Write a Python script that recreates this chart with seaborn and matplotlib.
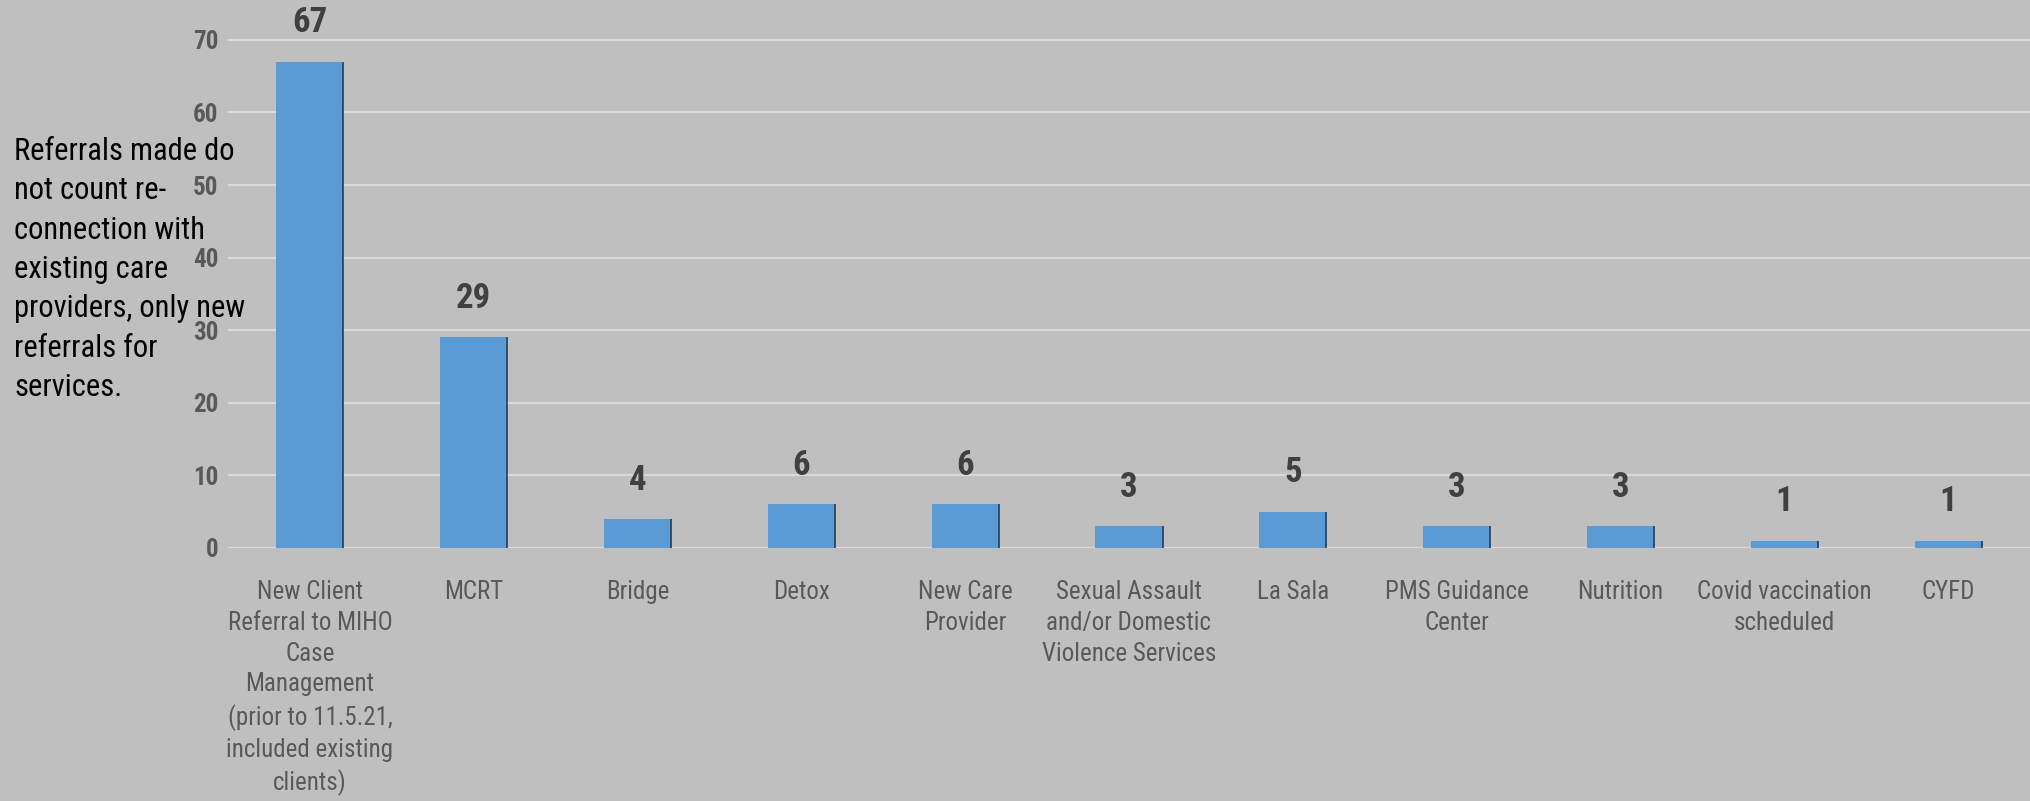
import pandas as pd
import numpy as np
import matplotlib
matplotlib.use('Agg')
import matplotlib.pyplot as plt
import matplotlib.font_manager as fm
import seaborn as sns

# data
categories = ['New Client\nReferral to MIHO\nCase\nManagement\n(prior to 11.5.21,\nincluded existing\nclients)',
              'MCRT', 'Bridge', 'Detox', 'New Care\nProvider',
              'Sexual Assault\nand/or Domestic\nViolence Services',
              'La Sala', 'PMS Guidance\nCenter', 'Nutrition',
              'Covid vaccination\nscheduled', 'CYFD']
referrals = [67, 29, 4, 6, 6, 3, 5, 3, 3, 1, 1]
yticks = [0, 10, 20, 30, 40, 50, 60, 70]
note = 'Referrals made do\nnot count re-\nconnection with\nexisting care\nproviders, only new\nreferrals for\nservices.'

bg = '#BFBFBF'
bar_color = '#5B9BD5'

sns.set_theme(style='white')

# narrow font like Arial Narrow, whatever is installed
installed = {f.name for f in fm.fontManager.ttflist}
wanted = ['Liberation Sans Narrow', 'Arial Narrow', 'Roboto Condensed', 'Archivo Narrow',
          'PT Sans Narrow', 'Fira Sans Condensed', 'Pragati Narrow']
narrow = [n for n in wanted if n in installed][:1]
plt.rcParams['font.family'] = narrow + ['Liberation Sans', 'DejaVu Sans']

df = pd.DataFrame({'category': categories, 'referrals': referrals})

fig = plt.figure(figsize=(20.3, 8.01), dpi=100, facecolor=bg)
ax = fig.add_axes([0.1123, 0.316, 0.8877, 0.684])
ax.set_facecolor(bg)

sns.barplot(data=df, x='category', y='referrals', color=bar_color,
            saturation=1, width=0.41, linewidth=0, ax=ax, zorder=3)

# dark shadow line on right edge of each bar
for p in ax.patches:
    x_r = p.get_x() + p.get_width()
    ax.vlines(x_r, 0, p.get_height(), color='#1F3F5F', lw=1.2, zorder=4)

# value labels
for p, v in zip(ax.patches, referrals):
    ax.annotate(f'{v}', (p.get_x() + p.get_width() / 2, p.get_height()),
                xytext=(0, 16), textcoords='offset points',
                ha='center', va='bottom', fontsize=25, fontweight='bold',
                color='#404040')

ax.set_ylim(0, 75.5)
ax.set_xlim(-0.5, len(categories) - 0.5)
ax.set_yticks(yticks)
ax.yaxis.grid(True, color='#D9D9D9', lw=1.6, zorder=0)
ax.set_axisbelow(True)
for s in ax.spines.values():
    s.set_visible(False)
ax.set_xlabel('')
ax.set_ylabel('')
ax.tick_params(axis='y', length=0, pad=7, labelsize=18, labelcolor='#595959')
ax.tick_params(axis='x', length=0, pad=23, labelsize=18, labelcolor='#595959')
for t in ax.get_yticklabels():
    t.set_fontweight('bold')
for t in ax.get_xticklabels():
    t.set_linespacing(1.36)
    t.set_va('top')

fig.text(14 / 2030, 1 - 137 / 801, note, ha='left', va='top',
         fontsize=22, color='black', linespacing=1.45)

plt.savefig('out.png', dpi=100, facecolor=bg)
plt.close()
